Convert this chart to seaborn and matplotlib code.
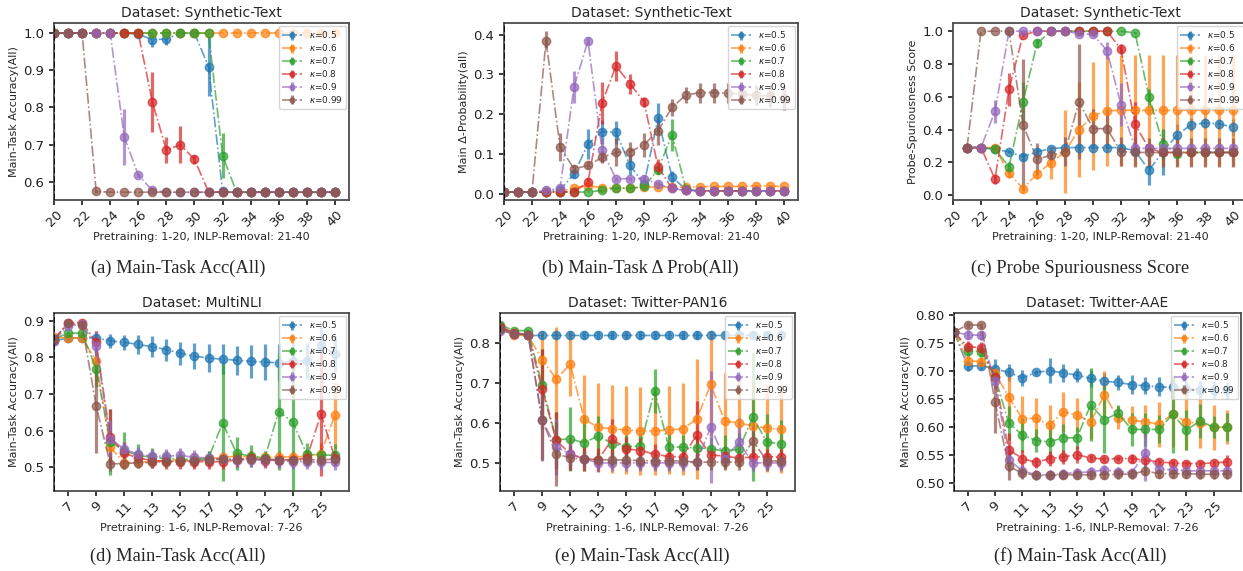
import matplotlib
matplotlib.use("Agg")
import matplotlib.pyplot as plt
import seaborn as sns

KAPPAS = ["0.5", "0.6", "0.7", "0.8", "0.9", "0.99"]

X_SYN = list(range(20, 41))
X_PROBE = list(range(21, 41))
X_REAL = list(range(6, 27))

# (a) Synthetic-Text main-task accuracy, x = 20..40
acc_syn = [
    [1.0, 1.0, 1.0, 1.0, 1.0, 1.0, 0.997, 0.982, 0.984, 1.0, 1.0, 0.91, 0.575, 0.572, 0.572, 0.572, 0.572, 0.572, 0.572, 0.572, 0.572],
    [1.0, 1.0, 1.0, 1.0, 1.0, 1.0, 1.0, 1.0, 1.0, 1.0, 1.0, 1.0, 1.0, 1.0, 1.0, 1.0, 1.0, 1.0, 1.0, 1.0, 1.0],
    [1.0, 1.0, 1.0, 1.0, 1.0, 1.0, 1.0, 1.0, 1.0, 1.0, 1.0, 1.0, 0.670, 0.572, 0.572, 0.572, 0.572, 0.572, 0.572, 0.572, 0.572],
    [1.0, 1.0, 1.0, 1.0, 1.0, 1.0, 1.0, 0.815, 0.685, 0.700, 0.660, 0.573, 0.572, 0.572, 0.572, 0.572, 0.572, 0.572, 0.572, 0.572, 0.572],
    [1.0, 1.0, 1.0, 1.0, 1.0, 0.721, 0.618, 0.577, 0.572, 0.572, 0.572, 0.572, 0.572, 0.572, 0.572, 0.572, 0.572, 0.572, 0.572, 0.572, 0.572],
    [1.0, 1.0, 1.0, 0.574, 0.572, 0.572, 0.572, 0.572, 0.572, 0.572, 0.572, 0.572, 0.572, 0.572, 0.572, 0.572, 0.572, 0.572, 0.572, 0.572, 0.572],
]
acc_syn_err = [
    [0, 0, 0, 0, 0, 0, 0.005, 0.02, 0.015, 0, 0, 0.08, 0.005, 0, 0, 0, 0, 0, 0, 0, 0],
    [0, 0, 0, 0, 0, 0, 0, 0, 0, 0, 0, 0, 0, 0, 0, 0, 0, 0, 0, 0, 0],
    [0, 0, 0, 0, 0, 0, 0, 0, 0, 0, 0, 0, 0.06, 0, 0, 0, 0, 0, 0, 0, 0],
    [0, 0, 0, 0, 0, 0, 0, 0.08, 0.035, 0.05, 0.012, 0, 0, 0, 0, 0, 0, 0, 0, 0, 0],
    [0, 0, 0, 0, 0, 0.075, 0.005, 0, 0, 0, 0, 0, 0, 0, 0, 0, 0, 0, 0, 0, 0],
    [0, 0, 0, 0.003, 0, 0, 0, 0, 0, 0, 0, 0, 0, 0, 0, 0, 0, 0, 0, 0, 0],
]

# (b) Synthetic-Text main delta probability, x = 20..40
dprob_syn = [
    [0.004, 0.004, 0.004, 0.005, 0.010, 0.049, 0.125, 0.156, 0.154, 0.071, 0.024, 0.189, 0.042, 0.010, 0.007, 0.007, 0.007, 0.007, 0.007, 0.007, 0.007],
    [0.004, 0.004, 0.004, 0.004, 0.005, 0.014, 0.020, 0.015, 0.014, 0.014, 0.016, 0.017, 0.017, 0.016, 0.017, 0.018, 0.018, 0.018, 0.020, 0.019, 0.018],
    [0.004, 0.004, 0.004, 0.004, 0.004, 0.004, 0.004, 0.008, 0.014, 0.013, 0.018, 0.060, 0.148, 0.012, 0.007, 0.007, 0.007, 0.007, 0.007, 0.007, 0.007],
    [0.004, 0.004, 0.004, 0.004, 0.004, 0.005, 0.029, 0.228, 0.321, 0.276, 0.231, 0.068, 0.013, 0.008, 0.007, 0.007, 0.007, 0.007, 0.007, 0.007, 0.007],
    [0.004, 0.004, 0.004, 0.008, 0.013, 0.268, 0.384, 0.110, 0.037, 0.038, 0.038, 0.024, 0.013, 0.008, 0.007, 0.007, 0.007, 0.007, 0.007, 0.007, 0.007],
    [0.004, 0.004, 0.005, 0.385, 0.118, 0.062, 0.071, 0.091, 0.104, 0.105, 0.123, 0.158, 0.217, 0.248, 0.254, 0.254, 0.252, 0.250, 0.247, 0.245, 0.240],
]
dprob_syn_err = [
    [0, 0, 0, 0, 0.003, 0.01, 0.038, 0.03, 0.028, 0.025, 0.01, 0.038, 0.015, 0.003, 0, 0, 0, 0, 0, 0, 0],
    [0, 0, 0, 0, 0, 0.003, 0.003, 0.002, 0.002, 0.002, 0.002, 0.002, 0.002, 0.002, 0.002, 0.002, 0.002, 0.002, 0.002, 0.002, 0.002],
    [0, 0, 0, 0, 0, 0, 0, 0.002, 0.003, 0.002, 0.004, 0.01, 0.04, 0.003, 0, 0, 0, 0, 0, 0, 0],
    [0, 0, 0, 0, 0, 0, 0.01, 0.052, 0.037, 0.025, 0.012, 0.018, 0.003, 0, 0, 0, 0, 0, 0, 0, 0],
    [0, 0, 0, 0.002, 0.004, 0.04, 0.01, 0.03, 0.005, 0.005, 0.008, 0.008, 0.003, 0, 0, 0, 0, 0, 0, 0, 0],
    [0, 0, 0, 0.025, 0.035, 0.01, 0.01, 0.015, 0.035, 0.025, 0.03, 0.035, 0.022, 0.02, 0.025, 0.025, 0.025, 0.025, 0.025, 0.028, 0.03],
]

# (c) Probe spuriousness score, x = 21..40
probe_syn = [
    [0.29, 0.29, 0.28, 0.264, 0.234, 0.264, 0.284, 0.29, 0.29, 0.29, 0.29, 0.29, 0.27, 0.152, 0.265, 0.366, 0.429, 0.44, 0.435, 0.413],
    [0.29, 0.29, 0.29, 0.133, 0.04, 0.13, 0.197, 0.265, 0.40, 0.484, 0.515, 0.517, 0.517, 0.517, 0.517, 0.517, 0.517, 0.517, 0.517, 0.517],
    [0.29, 0.29, 0.28, 0.173, 0.567, 0.925, 1.0, 1.0, 1.0, 1.0, 1.0, 1.0, 0.99, 0.60, 0.311, 0.252, 0.26, 0.26, 0.26, 0.26],
    [0.29, 0.29, 0.098, 0.646, 0.976, 1.0, 1.0, 1.0, 1.0, 1.0, 1.0, 0.89, 0.431, 0.285, 0.26, 0.26, 0.26, 0.26, 0.26, 0.26],
    [0.29, 0.29, 0.512, 1.0, 1.0, 1.0, 1.0, 1.0, 0.985, 0.98, 0.882, 0.551, 0.285, 0.285, 0.285, 0.285, 0.285, 0.285, 0.285, 0.285],
    [0.29, 1.0, 1.0, 1.0, 0.429, 0.22, 0.242, 0.265, 0.569, 0.406, 0.405, 0.265, 0.26, 0.26, 0.26, 0.26, 0.26, 0.26, 0.26, 0.26],
]
probe_syn_err = [
    [0, 0, 0.01, 0.01, 0.02, 0.02, 0.01, 0.01, 0.01, 0.01, 0.01, 0.02, 0.03, 0.09, 0.14, 0.07, 0.04, 0.03, 0.03, 0.05],
    [0, 0, 0.01, 0.03, 0.02, 0.03, 0.1, 0.255, 0.29, 0.33, 0.34, 0.34, 0.34, 0.34, 0.34, 0.34, 0.34, 0.34, 0.34, 0.34],
    [0, 0, 0.01, 0.03, 0.12, 0.03, 0, 0, 0, 0, 0, 0, 0.005, 0.05, 0.09, 0.01, 0.01, 0.01, 0.01, 0.01],
    [0, 0, 0.03, 0.1, 0.01, 0, 0, 0, 0, 0, 0, 0.03, 0.14, 0.01, 0.01, 0.01, 0.01, 0.01, 0.01, 0.01],
    [0, 0, 0.07, 0, 0, 0, 0, 0, 0.005, 0.01, 0.05, 0.13, 0.01, 0.01, 0.01, 0.01, 0.01, 0.01, 0.01, 0.01],
    [0, 0, 0, 0, 0.4, 0.1, 0.03, 0.09, 0.35, 0.12, 0.12, 0.09, 0.09, 0.09, 0.09, 0.09, 0.09, 0.09, 0.09, 0.09],
]

# (d) MultiNLI, x = 6..26
acc_mnli = [
    [0.845, 0.853, 0.853, 0.853, 0.845, 0.841, 0.835, 0.829, 0.821, 0.811, 0.803, 0.798, 0.795, 0.792, 0.789, 0.787, 0.785, 0.79, 0.79, 0.833, 0.809],
    [0.855, 0.853, 0.853, 0.789, 0.555, 0.512, 0.513, 0.516, 0.518, 0.52, 0.522, 0.523, 0.527, 0.53, 0.528, 0.527, 0.528, 0.528, 0.53, 0.537, 0.643],
    [0.85, 0.866, 0.866, 0.769, 0.57, 0.545, 0.532, 0.527, 0.524, 0.522, 0.52, 0.525, 0.621, 0.538, 0.53, 0.525, 0.652, 0.623, 0.535, 0.533, 0.533],
    [0.848, 0.895, 0.895, 0.841, 0.583, 0.538, 0.525, 0.518, 0.516, 0.515, 0.515, 0.515, 0.515, 0.52, 0.525, 0.518, 0.52, 0.52, 0.525, 0.645, 0.525],
    [0.845, 0.886, 0.89, 0.832, 0.578, 0.549, 0.535, 0.53, 0.53, 0.532, 0.527, 0.525, 0.522, 0.52, 0.52, 0.52, 0.518, 0.515, 0.515, 0.513, 0.513],
    [0.85, 0.893, 0.888, 0.668, 0.509, 0.51, 0.512, 0.513, 0.515, 0.517, 0.518, 0.52, 0.522, 0.522, 0.523, 0.522, 0.521, 0.52, 0.52, 0.52, 0.522],
]
acc_mnli_err = [
    [0.01, 0.01, 0.01, 0.01, 0.02, 0.02, 0.025, 0.028, 0.03, 0.032, 0.035, 0.038, 0.04, 0.04, 0.045, 0.048, 0.05, 0.05, 0.05, 0.05, 0.05],
    [0.005, 0.005, 0.005, 0.05, 0.04, 0.015, 0.015, 0.015, 0.015, 0.015, 0.015, 0.015, 0.015, 0.015, 0.015, 0.015, 0.015, 0.015, 0.02, 0.03, 0.09],
    [0.005, 0.005, 0.005, 0.05, 0.09, 0.05, 0.03, 0.025, 0.02, 0.02, 0.02, 0.02, 0.16, 0.045, 0.03, 0.02, 0.16, 0.19, 0.03, 0.02, 0.03],
    [0.005, 0.005, 0.005, 0.03, 0.075, 0.03, 0.02, 0.02, 0.02, 0.02, 0.02, 0.02, 0.02, 0.02, 0.02, 0.02, 0.02, 0.02, 0.02, 0.17, 0.02],
    [0.005, 0.005, 0.005, 0.04, 0.05, 0.02, 0.02, 0.02, 0.02, 0.02, 0.02, 0.02, 0.02, 0.02, 0.02, 0.02, 0.02, 0.02, 0.02, 0.02, 0.02],
    [0.005, 0.005, 0.005, 0.13, 0.02, 0.015, 0.015, 0.015, 0.015, 0.015, 0.015, 0.015, 0.015, 0.015, 0.015, 0.015, 0.015, 0.015, 0.015, 0.015, 0.015],
]

# (e) Twitter-PAN16, x = 6..26
acc_pan16 = [
    [0.84, 0.822, 0.818, 0.818, 0.818, 0.818, 0.818, 0.818, 0.818, 0.818, 0.818, 0.818, 0.818, 0.818, 0.818, 0.818, 0.818, 0.818, 0.818, 0.818, 0.818],
    [0.835, 0.818, 0.818, 0.758, 0.71, 0.746, 0.609, 0.589, 0.585, 0.582, 0.58, 0.58, 0.582, 0.585, 0.609, 0.696, 0.604, 0.6, 0.592, 0.587, 0.584],
    [0.845, 0.83, 0.83, 0.694, 0.558, 0.56, 0.55, 0.568, 0.548, 0.54, 0.543, 0.68, 0.541, 0.539, 0.538, 0.535, 0.53, 0.534, 0.614, 0.552, 0.548],
    [0.84, 0.825, 0.82, 0.684, 0.556, 0.523, 0.51, 0.508, 0.56, 0.535, 0.531, 0.522, 0.516, 0.515, 0.569, 0.52, 0.517, 0.512, 0.515, 0.516, 0.514],
    [0.83, 0.822, 0.82, 0.606, 0.54, 0.522, 0.51, 0.5, 0.5, 0.5, 0.5, 0.5, 0.5, 0.5, 0.502, 0.589, 0.51, 0.552, 0.5, 0.5, 0.5],
    [0.835, 0.822, 0.82, 0.607, 0.522, 0.513, 0.51, 0.508, 0.508, 0.507, 0.506, 0.505, 0.505, 0.505, 0.502, 0.502, 0.502, 0.502, 0.555, 0.505, 0.505],
]
acc_pan16_err = [
    [0.005, 0.01, 0.01, 0.01, 0.01, 0.01, 0.01, 0.01, 0.01, 0.01, 0.01, 0.01, 0.01, 0.01, 0.01, 0.01, 0.01, 0.01, 0.01, 0.01, 0.01],
    [0.005, 0.005, 0.005, 0.07, 0.13, 0.08, 0.11, 0.11, 0.11, 0.11, 0.11, 0.11, 0.11, 0.115, 0.15, 0.13, 0.12, 0.11, 0.11, 0.11, 0.11],
    [0.005, 0.005, 0.005, 0.09, 0.07, 0.08, 0.07, 0.05, 0.04, 0.03, 0.03, 0.055, 0.03, 0.03, 0.03, 0.03, 0.04, 0.04, 0.16, 0.07, 0.06],
    [0.005, 0.005, 0.005, 0.1, 0.07, 0.04, 0.03, 0.03, 0.05, 0.03, 0.03, 0.025, 0.02, 0.02, 0.085, 0.02, 0.02, 0.02, 0.02, 0.02, 0.02],
    [0.005, 0.005, 0.005, 0.1, 0.07, 0.03, 0.02, 0.02, 0.02, 0.02, 0.02, 0.02, 0.02, 0.02, 0.02, 0.14, 0.02, 0.06, 0.02, 0.02, 0.02],
    [0.005, 0.005, 0.005, 0.1, 0.08, 0.03, 0.02, 0.02, 0.02, 0.02, 0.02, 0.02, 0.02, 0.02, 0.02, 0.02, 0.02, 0.02, 0.04, 0.02, 0.02],
]

# (f) Twitter-AAE, x = 6..26
acc_aae = [
    [0.77, 0.709, 0.71, 0.704, 0.698, 0.688, 0.698, 0.701, 0.697, 0.693, 0.687, 0.682, 0.68, 0.676, 0.674, 0.672, 0.671, 0.668, 0.667, 0.667, 0.666],
    [0.77, 0.719, 0.717, 0.697, 0.654, 0.615, 0.616, 0.604, 0.627, 0.622, 0.609, 0.658, 0.617, 0.612, 0.61, 0.605, 0.624, 0.609, 0.607, 0.6, 0.6],
    [0.77, 0.737, 0.735, 0.69, 0.608, 0.586, 0.576, 0.574, 0.581, 0.581, 0.64, 0.613, 0.625, 0.596, 0.596, 0.596, 0.623, 0.595, 0.611, 0.6, 0.6],
    [0.77, 0.744, 0.742, 0.69, 0.56, 0.544, 0.537, 0.544, 0.547, 0.551, 0.545, 0.543, 0.544, 0.544, 0.541, 0.538, 0.536, 0.535, 0.535, 0.536, 0.538],
    [0.77, 0.765, 0.764, 0.683, 0.542, 0.522, 0.515, 0.515, 0.517, 0.519, 0.52, 0.524, 0.52, 0.519, 0.553, 0.525, 0.524, 0.522, 0.522, 0.522, 0.522],
    [0.77, 0.783, 0.782, 0.645, 0.53, 0.518, 0.514, 0.514, 0.515, 0.515, 0.515, 0.515, 0.516, 0.516, 0.522, 0.517, 0.517, 0.517, 0.516, 0.516, 0.516],
]
acc_aae_err = [
    [0.005, 0.008, 0.008, 0.018, 0.015, 0.015, 0.005, 0.022, 0.016, 0.012, 0.015, 0.014, 0.014, 0.017, 0.015, 0.017, 0.017, 0.015, 0.015, 0.015, 0.015],
    [0.005, 0.008, 0.008, 0.01, 0.045, 0.04, 0.037, 0.035, 0.035, 0.03, 0.03, 0.042, 0.02, 0.025, 0.03, 0.04, 0.06, 0.05, 0.045, 0.04, 0.03],
    [0.005, 0.01, 0.01, 0.01, 0.03, 0.03, 0.02, 0.03, 0.025, 0.02, 0.065, 0.06, 0.015, 0.03, 0.03, 0.025, 0.07, 0.035, 0.03, 0.02, 0.025],
    [0.005, 0.01, 0.01, 0.01, 0.03, 0.015, 0.01, 0.013, 0.013, 0.015, 0.005, 0.005, 0.005, 0.008, 0.01, 0.006, 0.005, 0.005, 0.005, 0.005, 0.012],
    [0.005, 0.008, 0.008, 0.015, 0.02, 0.01, 0.008, 0.008, 0.008, 0.008, 0.008, 0.008, 0.008, 0.008, 0.05, 0.008, 0.008, 0.008, 0.008, 0.008, 0.008],
    [0.005, 0.005, 0.005, 0.055, 0.025, 0.01, 0.008, 0.008, 0.008, 0.008, 0.008, 0.008, 0.008, 0.008, 0.008, 0.008, 0.008, 0.008, 0.008, 0.008, 0.008],
]

CAPTIONS = [
    "(a) Main-Task Acc(All)", "(b) Main-Task \u0394 Prob(All)", "(c) Probe Spuriousness Score",
    "(d) Main-Task Acc(All)", "(e) Main-Task Acc(All)", "(f) Main-Task Acc(All)",
]

sns.set_theme(style="ticks")
plt.rcParams["font.family"] = ["DejaVu Sans"]
plt.rcParams.update({
    "axes.edgecolor": "#4d4d4d",
    "axes.linewidth": 1.3,
    "xtick.color": "#222222",
    "ytick.color": "#222222",
    "xtick.major.size": 3.5,
    "ytick.major.size": 3.5,
    "xtick.labelsize": 9.5,
    "ytick.labelsize": 9.5,
    "mathtext.fontset": "dejavusans",
})
palette = sns.color_palette("tab10", 6)

W, H = 1243, 571
fig = plt.figure(figsize=(W / 100, H / 100), dpi=100)


def px_axes(left, top, right, bottom):
    return fig.add_axes([left / W, 1 - bottom / H, (right - left) / W, (bottom - top) / H])


def draw_panel(ax, xs, means, errs, title, xlabel, ylabel, xlim, ylim, xticks, yticks, boundary=None):
    for i, (m, e) in enumerate(zip(means, errs)):
        ax.errorbar(xs, m, yerr=e, fmt="-.o", color=palette[i], alpha=0.7, ms=6, lw=1.2,
                    elinewidth=2.3, capsize=0, label=rf"$\kappa$={KAPPAS[i]}")
    if boundary is not None:
        ax.axvline(boundary, color="black", ls="--", lw=1.2, zorder=5)
    ax.set_xlim(*xlim)
    ax.set_ylim(*ylim)
    ax.set_xticks(xticks)
    ax.set_yticks(yticks)
    ax.tick_params(axis="x", rotation=45, pad=2)
    ax.set_title(title, fontsize=10, pad=4)
    ax.set_xlabel(xlabel, fontsize=8, labelpad=2)
    ax.set_ylabel(ylabel, fontsize=8, labelpad=3)
    ax.legend(loc="upper right", fontsize=6.4, frameon=True, fancybox=True,
              framealpha=0.8, edgecolor="0.8", handlelength=2.2, labelspacing=0.22,
              markerscale=0.6, borderaxespad=0.3, handletextpad=0.8)


top_xlabel = "Pretraining: 1-20, INLP-Removal: 21-40"
bot_xlabel = "Pretraining: 1-6, INLP-Removal: 7-26"
syn_ticks = list(range(20, 41, 2))
real_ticks = list(range(7, 26, 2))

ax_a = px_axes(54, 23, 349, 200)
draw_panel(ax_a, X_SYN, acc_syn, acc_syn_err, "Dataset: Synthetic-Text", top_xlabel,
           "Main-Task Accuracy(All)", (20, 41), (0.551, 1.027), syn_ticks,
           [0.6, 0.7, 0.8, 0.9, 1.0], boundary=20)

ax_b = px_axes(504, 23, 798, 200)
draw_panel(ax_b, X_SYN, dprob_syn, dprob_syn_err, "Dataset: Synthetic-Text", top_xlabel,
           "Main \u0394-Probability(all)", (20, 41), (-0.016, 0.429), syn_ticks,
           [0.0, 0.1, 0.2, 0.3, 0.4], boundary=20)

ax_c = px_axes(953, 23, 1247, 200)
draw_panel(ax_c, X_PROBE, probe_syn, probe_syn_err, "Dataset: Synthetic-Text", top_xlabel,
           "Probe-Spuriousness Score", (20, 41), (-0.03, 1.05), syn_ticks,
           [0.0, 0.2, 0.4, 0.6, 0.8, 1.0])

ax_d = px_axes(54, 313, 349, 491)
draw_panel(ax_d, X_REAL, acc_mnli, acc_mnli_err, "Dataset: MultiNLI", bot_xlabel,
           "Main-Task Accuracy(All)", (6, 27), (0.435, 0.921), real_ticks,
           [0.5, 0.6, 0.7, 0.8, 0.9], boundary=6)

ax_e = px_axes(500, 313, 795, 491)
draw_panel(ax_e, X_REAL, acc_pan16, acc_pan16_err, "Dataset: Twitter-PAN16", bot_xlabel,
           "Main-Task Accuracy(All)", (6, 27), (0.43, 0.874), real_ticks,
           [0.5, 0.6, 0.7, 0.8], boundary=6)

ax_f = px_axes(954, 313, 1241, 491)
draw_panel(ax_f, X_REAL, acc_aae, acc_aae_err, "Dataset: Twitter-AAE", bot_xlabel,
           "Main-Task Accuracy(All)", (6, 27), (0.486, 0.804), real_ticks,
           [0.50, 0.55, 0.60, 0.65, 0.70, 0.75, 0.80], boundary=6)
ax_f.yaxis.set_major_formatter(matplotlib.ticker.FormatStrFormatter("%.2f"))

cap_pos = [(178, 268), (640, 268), (1080, 268), (178, 556), (642, 556), (1080, 556)]
for (cx, cy), cap in zip(cap_pos, CAPTIONS):
    fig.text(cx / W, 1 - cy / H, cap, ha="center", va="center",
             family=["Liberation Serif", "DejaVu Serif"], fontsize=13.3)

fig.savefig("out.png", dpi=100)
